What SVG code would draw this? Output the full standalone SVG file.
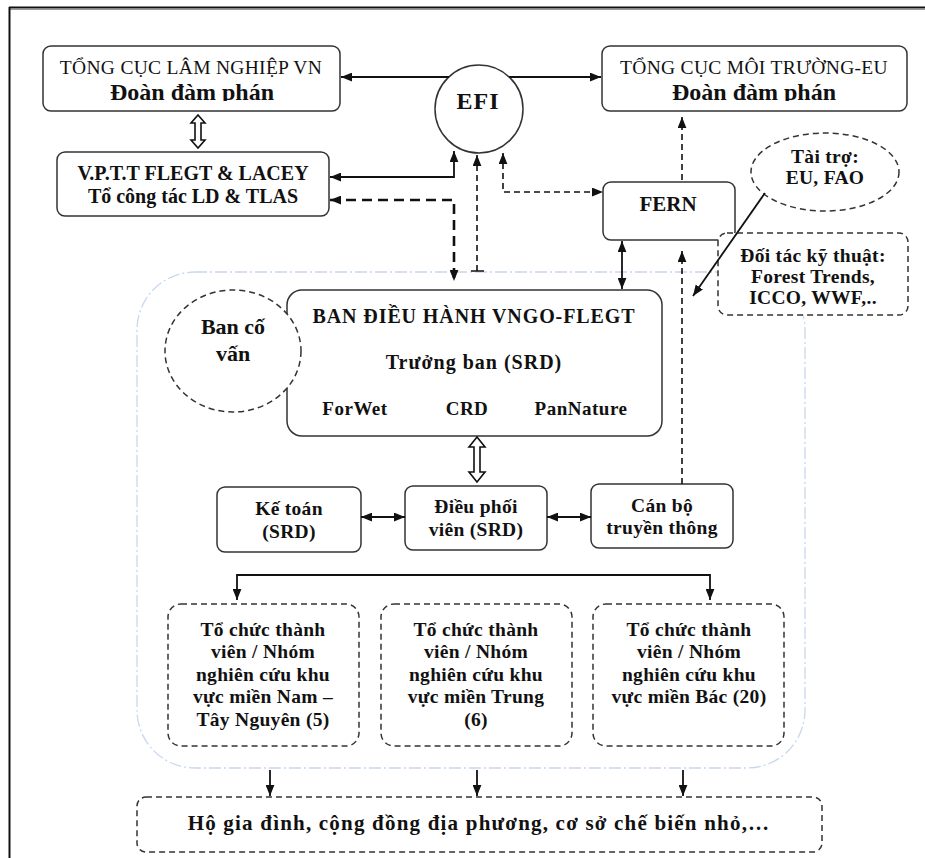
<svg xmlns="http://www.w3.org/2000/svg" width="925" height="858" viewBox="0 0 925 858">
<style>
  text { font-family: "Liberation Serif", "Times New Roman", serif; fill: #111; text-anchor: middle; }
  .b { font-weight: bold; }
  .s { font-size: 19.5px; font-weight: bold; letter-spacing: 0.3px; }
  .box { fill: #fff; stroke: #333; stroke-width: 1.5; }
  .dbox { fill: #fff; stroke: #333; stroke-width: 1.5; stroke-dasharray: 6 4; }
  .ln { fill: none; stroke: #111; stroke-width: 1.8; }
  .dl { fill: none; stroke: #111; stroke-width: 1.6; stroke-dasharray: 6 4; }
  .dt { fill: none; stroke: #111; stroke-width: 2.6; stroke-dasharray: 10 6; }
  .hollow { fill: #fff; stroke: #111; stroke-width: 1.6; }
</style>
<defs>
  <marker id="arr" viewBox="0 0 10 8" refX="10" refY="4" markerUnits="userSpaceOnUse" markerWidth="11" markerHeight="9" orient="auto-start-reverse">
    <path d="M0,0 L10,4 L0,8 z" fill="#111"/>
  </marker>
  <clipPath id="clipTop"><rect x="0" y="0" width="925" height="101"/></clipPath>
</defs>
<rect width="925" height="858" fill="#fff"/>
<!-- frame -->
<line x1="9" y1="7.5" x2="925" y2="7.5" stroke="#111" stroke-width="2"/>
<line x1="9" y1="9.5" x2="925" y2="9.5" stroke="#999" stroke-width="1"/>
<line x1="9.5" y1="7" x2="9.5" y2="858" stroke="#111" stroke-width="2"/>

<!-- container -->
<rect id="container" x="137" y="272" width="668" height="496" rx="58" fill="none" stroke="#c8d8ee" stroke-width="1.3" stroke-dasharray="12 3 2 3"/>

<g id="tcln">
  <rect class="box" x="43" y="46" width="297" height="65" rx="8"/>
  <text x="191" y="74" font-size="19.5" letter-spacing="0.3">TỔNG CỤC LÂM NGHIỆP VN</text>
  <text class="b" x="192" y="100" font-size="24" clip-path="url(#clipTop)">Đoàn đàm phán</text>
</g>
<g id="vptt">
  <rect class="box" x="57" y="152" width="272" height="64" rx="8"/>
  <text class="b" x="193" y="180" font-size="20">V.P.T.T FLEGT &amp; LACEY</text>
  <text class="b" x="193" y="203" font-size="20">Tổ công tác LD &amp; TLAS</text>
</g>
<g id="efi">
  <circle cx="479" cy="109" r="44" fill="#fff" stroke="#333" stroke-width="1.5"/>
  <text class="b" x="478" y="109" font-size="24" letter-spacing="1">EFI</text>
</g>
<g id="tcmt">
  <rect class="box" x="602" y="46" width="305" height="65" rx="8"/>
  <text x="754" y="74" font-size="19.5" letter-spacing="0.3">TỔNG CỤC MÔI TRƯỜNG-EU</text>
  <text class="b" x="754" y="100" font-size="24" clip-path="url(#clipTop)">Đoàn đàm phán</text>
</g>
<g id="fern">
  <rect class="box" x="603" y="182" width="132" height="58" rx="8"/>
  <text class="b" x="668" y="211" font-size="21">FERN</text>
</g>
<g id="taitro">
  <ellipse class="dbox" cx="825" cy="172" rx="74" ry="39"/>
  <text class="s" x="825" y="163">Tài trợ:</text>
  <text class="s" x="825" y="184">EU, FAO</text>
</g>
<g id="doitac">
  <rect class="dbox" x="718" y="233" width="190" height="82" rx="9"/>
  <text class="s" x="813" y="262">Đối tác kỹ thuật:</text>
  <text class="s" x="813" y="283">Forest Trends,</text>
  <text class="s" x="813" y="304">ICCO, WWF,..</text>
</g>
<g id="ban">
  <rect class="box" x="287" y="290" width="375" height="146" rx="15"/>
  <text class="b" x="474" y="323" font-size="20" letter-spacing="0.9">BAN ĐIỀU HÀNH VNGO-FLEGT</text>
  <text class="b" x="474" y="369" font-size="20" letter-spacing="1">Trưởng ban (SRD)</text>
  <text class="b" x="355" y="415" font-size="19" letter-spacing="0.5">ForWet</text>
  <text class="b" x="467" y="415" font-size="19" letter-spacing="0.5">CRD</text>
  <text class="b" x="581" y="415" font-size="19" letter-spacing="0.5">PanNature</text>
</g>
<g id="bancovan">
  <ellipse class="dbox" cx="233" cy="351" rx="68" ry="61"/>
  <text class="b" x="233" y="334" font-size="22">Ban cố</text>
  <text class="b" x="233" y="361" font-size="22">vấn</text>
</g>
<g id="ketoan">
  <rect class="box" x="217" y="487" width="144" height="65" rx="8"/>
  <text class="s" x="289" y="515">Kế toán</text>
  <text class="s" x="289" y="538">(SRD)</text>
</g>
<g id="dieuphoi">
  <rect class="box" x="405" y="486" width="142" height="64" rx="8"/>
  <text class="s" x="476" y="513">Điều phối</text>
  <text class="s" x="476" y="536">viên (SRD)</text>
</g>
<g id="canbo">
  <rect class="box" x="591" y="484" width="142" height="64" rx="8"/>
  <text class="s" x="662" y="512">Cán bộ</text>
  <text class="s" x="662" y="534">truyền thông</text>
</g>
<g id="mien-nam">
  <rect class="dbox" x="168" y="604" width="191" height="142" rx="13"/>
  <text class="s" x="263" y="636">Tổ chức thành</text>
  <text class="s" x="263" y="658">viên / Nhóm</text>
  <text class="s" x="263" y="681">nghiên cứu khu</text>
  <text class="s" x="263" y="703">vực miền Nam –</text>
  <text class="s" x="263" y="726">Tây Nguyên (5)</text>
</g>
<g id="mien-trung">
  <rect class="dbox" x="381" y="604" width="191" height="142" rx="13"/>
  <text class="s" x="476" y="636">Tổ chức thành</text>
  <text class="s" x="476" y="658">viên / Nhóm</text>
  <text class="s" x="476" y="681">nghiên cứu khu</text>
  <text class="s" x="476" y="703">vực miền Trung</text>
  <text class="s" x="476" y="726">(6)</text>
</g>
<g id="mien-bac">
  <rect class="dbox" x="593" y="604" width="191" height="142" rx="13"/>
  <text class="s" x="689" y="636">Tổ chức thành</text>
  <text class="s" x="689" y="658">viên / Nhóm</text>
  <text class="s" x="689" y="681">nghiên cứu khu</text>
  <text class="s" x="689" y="703">vực miền Bác (20)</text>
</g>
<g id="hogiadinh">
  <rect class="dbox" x="137" y="797" width="685" height="55" rx="9"/>
  <text class="b" x="479" y="830" font-size="21" letter-spacing="1.2">Hộ gia đình, cộng đồng địa phương, cơ sở chế biến nhỏ,…</text>
</g>

<g id="connectors">
  <line class="ln" x1="449" y1="77" x2="341" y2="77" marker-end="url(#arr)"/>
  <line class="ln" x1="509" y1="77" x2="601" y2="77" marker-end="url(#arr)"/>
  <path class="ln" d="M330 177 H454 V151" marker-start="url(#arr)" marker-end="url(#arr)"/>
  <path class="dt" d="M330 200 H454 V281" marker-start="url(#arr)" marker-end="url(#arr)"/>
  <path class="dl" d="M477 271 V155" marker-end="url(#arr)"/>
  <line x1="471" y1="271" x2="484" y2="271" stroke="#111" stroke-width="1.5"/>
  <path class="dl" d="M503 153 V192 H603" marker-start="url(#arr)" marker-end="url(#arr)"/>
  <path class="dl" d="M682 180 V117" marker-end="url(#arr)"/>
  <path class="ln" d="M622 241 V289" marker-start="url(#arr)" marker-end="url(#arr)"/>
  <path class="ln" d="M765 193 L693 296" marker-end="url(#arr)"/>
  <path class="dl" d="M682 484 V251" marker-end="url(#arr)"/>
  <path class="ln" d="M361 517 H405" marker-start="url(#arr)" marker-end="url(#arr)"/>
  <path class="ln" d="M547 517 H591" marker-start="url(#arr)" marker-end="url(#arr)"/>
  <path class="ln" d="M237 600 V575 H710 V600" marker-start="url(#arr)" marker-end="url(#arr)"/>
  <path class="ln" d="M270 770 V796" marker-end="url(#arr)"/>
  <path class="ln" d="M477 770 V796" marker-end="url(#arr)"/>
  <path class="ln" d="M683 770 V796" marker-end="url(#arr)"/>
  <polygon class="hollow" points="198,115 205,123 201,123 201,140 205,140 198,148 191,140 195,140 195,123 191,123"/>
  <polygon class="hollow" points="477,437 485,447 480,447 480,472 485,472 477,482 469,472 474,472 474,447 469,447"/>
</g>
</svg>
